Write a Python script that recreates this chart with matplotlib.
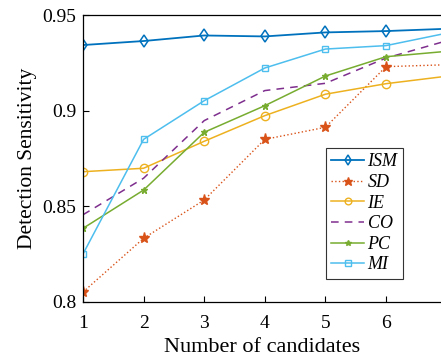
import matplotlib
matplotlib.use("Agg")
import matplotlib.pyplot as plt

# Data
candidates = [1, 2, 3, 4, 5, 6, 7]
ism = [0.9343, 0.9364, 0.9393, 0.9388, 0.9409, 0.9416, 0.9428]
sd = [0.8052, 0.8333, 0.8533, 0.8850, 0.8913, 0.9230, 0.9240]
ie = [0.8681, 0.8699, 0.8840, 0.8974, 0.9086, 0.9141, 0.9180]
co = [0.8456, 0.8647, 0.8948, 0.9105, 0.9143, 0.9275, 0.9365]
pc = [0.8385, 0.8585, 0.8887, 0.9026, 0.9181, 0.9282, 0.9310]
mi = [0.8251, 0.8850, 0.9052, 0.9223, 0.9322, 0.9340, 0.9405]
xticks = [1, 2, 3, 4, 5, 6]
yticks = [0.8, 0.85, 0.9, 0.95]
ytick_labels = ["0.8", "0.85", "0.9", "0.95"]

plt.rcParams['font.family'] = ['Liberation Serif', 'DejaVu Serif']

fig = plt.figure(figsize=(4.41, 3.59), dpi=100)
ax = fig.add_axes([83 / 441, 1 - 302 / 359, 1 - 83 / 441, 287 / 359])

ax.plot(candidates, ism, color='#0072BD', lw=1.3, marker='d', ms=6, mfc='none', mew=1.1, label='ISM')
ax.plot(candidates, sd, color='#D95319', lw=1.0, ls=':', marker='*', ms=8, label='SD')
ax.plot(candidates, ie, color='#EDB120', lw=1.1, marker='o', ms=6, mfc='none', mew=1.0, label='IE')
ax.plot(candidates, co, color='#7E2F8E', lw=1.1, ls=(0, (5, 4)), label='CO')
ax.plot(candidates, pc, color='#77AC30', lw=1.1, marker='*', ms=5, mew=1.0, label='PC')
ax.plot(candidates, mi, color='#4DBEEE', lw=1.1, marker='s', ms=5, mfc='none', mew=1.0, label='MI')

ax.set_xlim(1, 1 + (441 - 83) / 60.6)
ax.set_ylim(0.8, 0.95)
ax.set_xticks(xticks)
ax.set_yticks(yticks)
ax.set_yticklabels(ytick_labels)
ax.tick_params(direction='in', labelsize=14, length=4, width=0.8)
ax.tick_params(axis='x', pad=9)
ax.tick_params(axis='y', pad=5)
for s in ax.spines.values():
    s.set_linewidth(0.9)
ax.spines['right'].set_visible(False)

ax.set_xlabel('Number of candidates', fontsize=16, labelpad=5)
ax.set_ylabel('Detection Sensitivity', fontsize=15.5, labelpad=4)

leg = ax.legend(loc='upper left', bbox_to_anchor=(326 / 441, 1 - 148 / 359),
                bbox_transform=fig.transFigure, fancybox=False, framealpha=1,
                edgecolor='#333333', prop={'style': 'italic', 'size': 13},
                handlelength=1.8, handletextpad=0.2, labelspacing=0.2,
                borderpad=0.3, borderaxespad=0, markerscale=0.8)
leg.get_frame().set_linewidth(0.8)

fig.savefig('out.png', dpi=100)
